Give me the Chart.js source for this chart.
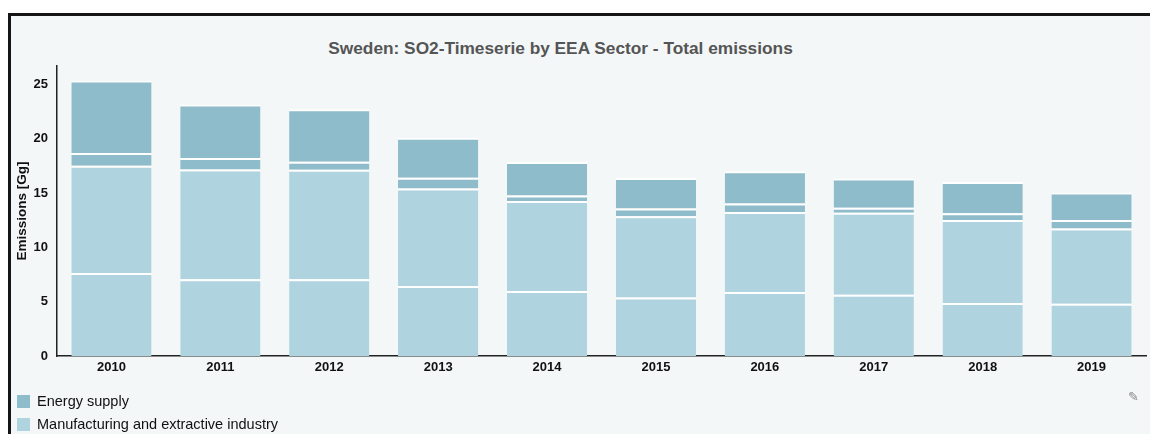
<!DOCTYPE html>
<html>
<head>
<meta charset="utf-8">
<script src="https://cdn.jsdelivr.net/npm/chart.js@4"></script>
<style>
  body { margin: 0; background: #fff; font-family: "Liberation Sans", Arial, sans-serif; }
  #frame { position: absolute; left: 8px; top: 13px; width: 1160px; height: 440px;
           border: 3px solid #151515; background: #f3f7f7; }
  #wrap { position: absolute; left: 0; top: 0; width: 1150px; height: 434px; }
  #title { position: absolute; left: 0; width: 1121px; top: 38px; text-align: center;
           font: bold 17.3px "Liberation Sans", Arial, sans-serif; color: #555; }
  #legend { position: absolute; left: 17px; top: 393px; font-size: 14.5px; color: #111; }
  .item { height: 23px; display: flex; align-items: flex-start; }
  .sw { width: 13px; height: 13px; margin-right: 7px; margin-top: 2px; }
  #pen { position: absolute; left: 1128px; top: 389px; font: 13px "DejaVu Sans"; color: #888; }
</style>
</head>
<body>
<div id="frame"></div>
<div id="title">Sweden: SO2-Timeserie by EEA Sector - Total emissions</div>
<div id="wrap"><canvas id="chart"></canvas></div>
<div id="legend"></div>
<div id="pen">✎</div>
<script>
// Datos (Gg)
const years = ['2010', '2011', '2012', '2013', '2014', '2015', '2016', '2017', '2018', '2019'];
const industrialProcesses = [7.65, 7.07, 7.07, 6.45, 5.99, 5.38, 5.90, 5.65, 4.88, 4.82];
const manufacturing = [9.86, 10.10, 10.07, 8.97, 8.29, 7.48, 7.36, 7.55, 7.64, 6.93];
const commercial = [1.18, 1.05, 0.74, 0.98, 0.49, 0.71, 0.77, 0.46, 0.62, 0.77];
const energySupply = [6.68, 4.93, 4.84, 3.70, 3.09, 2.81, 2.99, 2.68, 2.87, 2.53];
const yTicks = [0, 5, 10, 15, 20, 25];

const darkBlue = '#8fbccb';
const lightBlue = '#b0d4df';
const legendNames = ['Energy supply', 'Manufacturing and extractive industry'];

function serie(label, data, color) {
  return {
    label: label,
    data: data,
    backgroundColor: color,
    borderColor: '#ffffff',
    borderWidth: { top: 2, bottom: 0, left: 0, right: 0 },
    borderSkipped: false,
    categoryPercentage: 1,
    barPercentage: 0.737
  };
}

const tickFont = { family: 'Liberation Sans', size: 13, weight: 'bold' };

const chart = new Chart(document.getElementById('chart'), {
  type: 'bar',
  data: {
    labels: years,
    datasets: [
      serie('Industrial processes and product use', industrialProcesses, lightBlue),
      serie('Manufacturing and extractive industry', manufacturing, lightBlue),
      serie('Commercial, institutional and households', commercial, darkBlue),
      serie('Energy supply', energySupply, darkBlue)
    ]
  },
  options: {
    responsive: true,
    maintainAspectRatio: false,
    animation: false,
    layout: { padding: { left: 11, top: 66, right: 4, bottom: 48 } },
    plugins: {
      legend: { display: false },
      tooltip: { enabled: false }
    },
    scales: {
      x: {
        stacked: true,
        grid: { display: false, drawTicks: false },
        border: { display: true, color: '#222', width: 1.5 },
        ticks: { color: '#111', padding: 4, font: tickFont },
        afterFit: function(scale) { scale.height = 30; }
      },
      y: {
        stacked: true,
        min: 0,
        max: 26.7,
        grid: { display: false, drawTicks: false },
        border: { display: true, color: '#222', width: 1.5 },
        afterBuildTicks: function(scale) { scale.ticks = yTicks.map(v => ({ value: v })); },
        ticks: { color: '#111', padding: 9, font: tickFont },
        title: {
          display: true,
          text: 'Emissions [Gg]',
          color: '#111',
          padding: { top: 3, bottom: 0 },
          font: { family: 'Liberation Sans', size: 13.5, weight: 'bold' }
        },
        afterFit: function(scale) { scale.width = 46; }
      }
    }
  }
});

// Leyenda en HTML (sólo las dos series visibles en la imagen)
const legend = document.getElementById('legend');
legendNames.forEach(name => {
  const ds = chart.data.datasets.find(d => d.label === name);
  const item = document.createElement('div');
  item.className = 'item';
  item.innerHTML = '<span class="sw" style="background:' + ds.backgroundColor + '"></span><span>' + name + '</span>';
  legend.appendChild(item);
});
</script>
</body>
</html>
